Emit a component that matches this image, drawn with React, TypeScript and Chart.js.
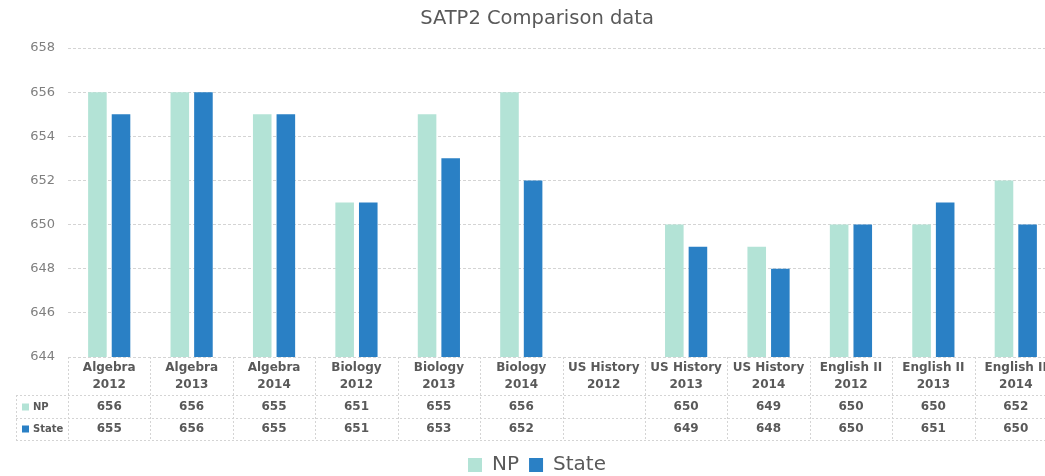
import React, { useEffect, useRef } from "react";
import { Chart, registerables } from "chart.js";

Chart.register(...registerables);

const subjects = ["Algebra", "Algebra", "Algebra", "Biology", "Biology", "Biology", "US History", "US History", "US History", "English II", "English II", "English II"];
const years = ["2012", "2013", "2014", "2012", "2013", "2014", "2012", "2013", "2014", "2012", "2013", "2014"];
const npValues: (number | null)[] = [656, 656, 655, 651, 655, 656, null, 650, 649, 650, 650, 652];
const stateValues: (number | null)[] = [655, 656, 655, 651, 653, 652, null, 649, 648, 650, 651, 650];
const seriesNames = ["NP", "State"];
const yMin = 644;
const yMax = 658;
const yStep = 2;
const titleText = "SATP2 Comparison data";

const NP_COLOR = "#b3e3d6";
const STATE_COLOR = "#2a80c5";
const TEXT = "#595959";
const GRID = "#d4d4d4";
const FONT = "'DejaVu Sans', sans-serif";

const tablePlugin = {
  id: "dataTable",
  afterDraw(chart: any) {
    const { ctx, chartArea, scales } = chart;
    const x = scales.x;
    const n = subjects.length;
    const step = x.getPixelForValue(1) - x.getPixelForValue(0);
    const right = chartArea.right;
    const top = Math.round(chartArea.bottom);
    const headerBottom = top + 38;
    const row1Bottom = headerBottom + 23;
    const row2Bottom = row1Bottom + 22;
    const labelLeft = 16;

    ctx.save();
    ctx.strokeStyle = GRID;
    ctx.lineWidth = 1;
    ctx.setLineDash([2, 2]);
    const hline = (y: number, x0: number, x1: number) => {
      ctx.beginPath();
      ctx.moveTo(x0, y + 0.5);
      ctx.lineTo(x1, y + 0.5);
      ctx.stroke();
    };
    const vline = (xx: number, y0: number, y1: number) => {
      ctx.beginPath();
      ctx.moveTo(Math.round(xx) + 0.5, y0);
      ctx.lineTo(Math.round(xx) + 0.5, y1);
      ctx.stroke();
    };
    hline(headerBottom, labelLeft, right);
    hline(row1Bottom, labelLeft, right);
    hline(row2Bottom, labelLeft, right);
    vline(labelLeft, headerBottom, row2Bottom);
    for (let i = 0; i <= n; i++) {
      const bx = x.getPixelForValue(0) - step / 2 + i * step;
      vline(bx, top, row2Bottom);
    }
    ctx.setLineDash([]);

    ctx.fillStyle = TEXT;
    ctx.textAlign = "center";
    ctx.textBaseline = "middle";
    ctx.font = `bold 12px ${FONT}`;
    for (let i = 0; i < n; i++) {
      const cx = x.getPixelForValue(i);
      ctx.fillText(subjects[i], cx, top + 11);
      ctx.fillText(years[i], cx, top + 28);
      const a = npValues[i];
      const b = stateValues[i];
      if (a !== null) ctx.fillText(String(a), cx, headerBottom + 12);
      if (b !== null) ctx.fillText(String(b), cx, row1Bottom + 11);
    }

    // series keys
    const colors = [NP_COLOR, STATE_COLOR];
    const rowsY = [headerBottom + 12, row1Bottom + 11];
    ctx.textAlign = "left";
    ctx.font = `bold 10px ${FONT}`;
    for (let s = 0; s < 2; s++) {
      ctx.fillStyle = colors[s];
      ctx.fillRect(labelLeft + 6, rowsY[s] - 3.5, 7, 7);
      ctx.fillStyle = TEXT;
      ctx.fillText(seriesNames[s], labelLeft + 17, rowsY[s]);
    }
    ctx.restore();
  },
};

export default function App() {
  const canvasRef = useRef<HTMLCanvasElement | null>(null);

  useEffect(() => {
    if (!canvasRef.current) return;
    const chart = new Chart(canvasRef.current, {
      type: "bar",
      data: {
        labels: subjects.map((s, i) => `${s} ${years[i]}`),
        datasets: [
          {
            label: seriesNames[0],
            data: npValues,
            backgroundColor: NP_COLOR,
            borderWidth: 0,
            categoryPercentage: 0.573,
            barPercentage: 0.787,
          },
          {
            label: seriesNames[1],
            data: stateValues,
            backgroundColor: STATE_COLOR,
            borderWidth: 0,
            categoryPercentage: 0.573,
            barPercentage: 0.787,
          },
        ],
      },
      options: {
        responsive: false,
        animation: false,
        layout: { padding: { left: 17, right: 3, top: 0, bottom: 0 } },
        plugins: {
          title: {
            display: true,
            text: titleText,
            color: TEXT,
            font: { family: FONT, size: 19.5, weight: "normal" },
            padding: { top: 7, bottom: 17.6 },
          },
          legend: {
            display: true,
            position: "bottom",
            labels: {
              color: TEXT,
              font: { family: FONT, size: 20 },
              boxWidth: 14,
              boxHeight: 14,
              padding: 10,
            },
          },
          tooltip: { enabled: false },
        },
        scales: {
          x: {
            display: true,
            grid: { display: false },
            border: { display: false },
            ticks: { display: false },
            afterFit: (scale: any) => {
              scale.height = 88;
            },
          },
          y: {
            min: yMin,
            max: yMax,
            grid: { color: GRID, drawTicks: false, lineWidth: 1 },
            border: { display: false, dash: [3, 2] },
            ticks: {
              stepSize: yStep,
              color: "#7f7f7f",
              padding: 13,
              font: { family: FONT, size: 13 },
            },
            afterFit: (scale: any) => {
              scale.width = 51;
            },
          },
        },
      },
      plugins: [tablePlugin],
    });
    return () => chart.destroy();
  }, []);

  return (
    <div style={{ position: "fixed", left: 0, top: 0, width: 1045, height: 476, overflow: "hidden", background: "#fff" }}>
      <canvas ref={canvasRef} width={1060} height={485} style={{ display: "block" }} />
    </div>
  );
}
